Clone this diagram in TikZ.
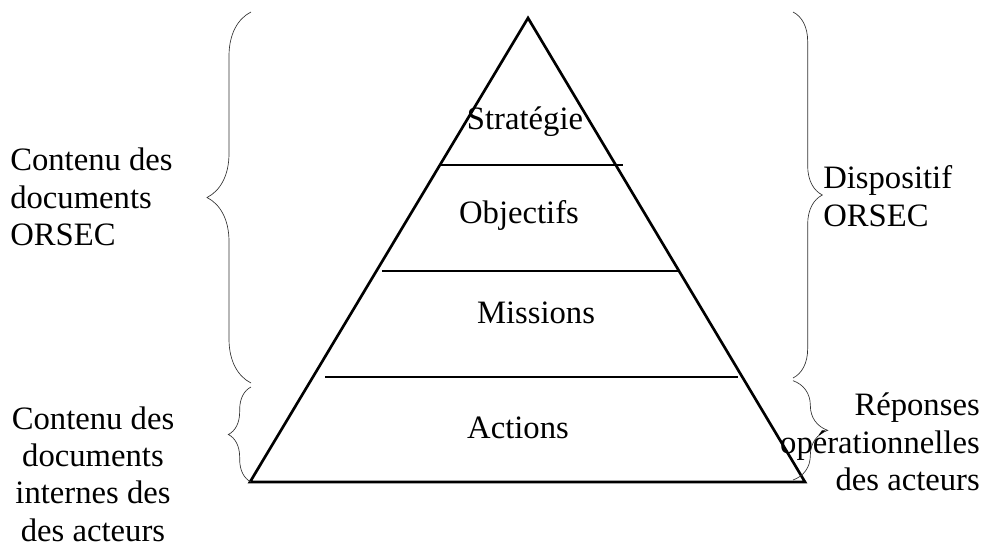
\documentclass[tikz,border=0pt]{standalone}
\usepackage{fontspec}
\setmainfont{Liberation Serif}
\usetikzlibrary{decorations.pathreplacing}

\begin{document}
\begin{tikzpicture}[x=0.75pt,y=-0.75pt,
    level/.style={line width=2pt},
    lbl/.style={inner sep=0pt,font=\fontsize{24.5}{28}\selectfont},
    brc/.style={decorate,decoration={brace,amplitude=#1},line width=0.5pt,black!80},
  ]
    \useasboundingbox (0,0) rectangle (987,550);
    % pyramid
    \coordinate (apex) at (528,18);
    \coordinate (bl) at (250,482);
    \coordinate (br) at (805,482);
    \draw[level] (bl) -- (apex) -- (br) -- cycle;
    \draw[level] (440,165) -- (623,165);
    \draw[level] (382,271) -- (680,271);
    \draw[level] (325,377) -- (738,377);
    \node[lbl] (strat) at (525,122) {Stratégie};
    \node[lbl] (obj) at (519,215) {Objectifs};
    \node[lbl] (miss) at (536,313) {Missions};
    \node[lbl] (act) at (518,428) {Actions};
    % braces
    \coordinate (lt) at (251,12);
    \coordinate (lm) at (251,383);
    \coordinate (lb) at (251,482);
    \draw[brc=33] (lm) -- (lt);
    \draw[brc=17] (lb) -- ([yshift=-3]lm);
    \coordinate (rt) at (793,12);
    \coordinate (rm) at (793,378);
    \coordinate (rb) at (793,480);
    \draw[brc=22] (rt) -- (rm);
    \draw[brc=26] ([yshift=-2]rm) -- (rb);
    % texts
    \node[lbl,align=left,anchor=west] (orsec) at (10,197) {Contenu des\\documents\\ORSEC};
    \node[lbl,align=center] (interne) at (93,474) {Contenu des\\documents\\internes des\\des acteurs};
    \node[lbl,align=left,anchor=west] (dispo) at (823,196) {Dispositif\\ORSEC};
    \node[lbl,align=right,anchor=east] (rep) at (980,442) {Réponses\\opérationnelles\\des acteurs};
  \end{tikzpicture}
\end{document}
